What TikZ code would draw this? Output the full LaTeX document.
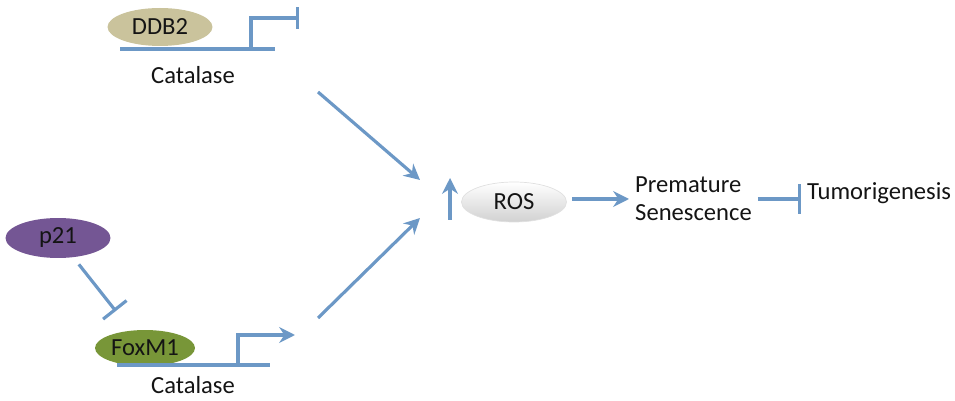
\documentclass[tikz,border=0pt]{standalone}
\usepackage{fontspec}
\setmainfont{Carlito}
\usetikzlibrary{shapes.geometric,arrows.meta}
\definecolor{pathblue}{RGB}{108,152,198}
\definecolor{ddbtan}{RGB}{202,195,156}
\definecolor{pviolet}{RGB}{116,86,148}
\definecolor{foxgreen}{RGB}{120,150,56}

\begin{document}
\begin{tikzpicture}[x=0.02cm, y=-0.02cm,
        every node/.style={font=\fontsize{14}{16}\selectfont, text=black!92},
        prot/.style={ellipse, minimum width=2.1cm, minimum height=0.76cm, inner sep=0pt},
        link/.style={draw=pathblue, line width=1.8pt},
        act/.style={link, -{Stealth[length=9pt, width=9pt]}},
        inh/.style={link, -{Bar[width=17pt]}}]
        \useasboundingbox (0,0) rectangle (955,401);

        % proteins and labels
        \node[prot, fill=ddbtan] (ddb) at (160,27)   {DDB2};
        \node[prot, fill=pviolet, minimum height=0.8cm] (p21) at (58,238) {p21};
        \node[prot, fill=foxgreen, minimum width=2cm, minimum height=0.72cm] (fox) at (145,348) {FoxM1};
        \node (cat1) at (193,75)  {Catalase};
        \node (cat2) at (193,385) {Catalase};
        \node[prot, top color=white, bottom color=black!18, draw=black!12,
              minimum height=0.8cm] (ros) at (514,202) {ROS};
        \node[anchor=west, align=left] (sen) at (629,199) {Premature\\Senescence};
        \node[anchor=west] (tum) at (801,193) {Tumorigenesis};

        % gene lines
        \coordinate (g1a) at (120,49);
        \coordinate (g1b) at (275,49);
        \coordinate (g1p) at (251,49);
        \coordinate (g1t) at (299,18);
        \coordinate (g2a) at (117,365);
        \coordinate (g2b) at (270,365);
        \coordinate (g2p) at (238,365);
        \coordinate (g2t) at (295,335);
        \draw[link] (g1a) -- (g1b);
        \draw[link, -{Bar[width=12pt]}] (g1p) |- (g1t);
        \draw[link] (g2a) -- (g2b);
        \draw[act] (g2p) |- (g2t);

        % Draw the edges
        \coordinate (c1) at (318,92);
        \coordinate (c2) at (318,318);
        \coordinate (r1) at (420,180);
        \coordinate (r2) at (420,218);
        \coordinate (u1) at (450,220);
        \coordinate (u2) at (450,178);
        \draw[act] (c1) -- (r1);
        \draw[act] (c2) -- (r2);
        \draw[act] (u1) -- (u2);
        \draw[inh, shorten <=5pt, shorten >=14pt] (p21) -- (fox);
        \draw[act, shorten <=3pt] (ros.east |- sen.west) -- (sen.west);
        \draw[inh] (sen.east) -- (tum.west |- sen.east);
    \end{tikzpicture}
\end{document}
